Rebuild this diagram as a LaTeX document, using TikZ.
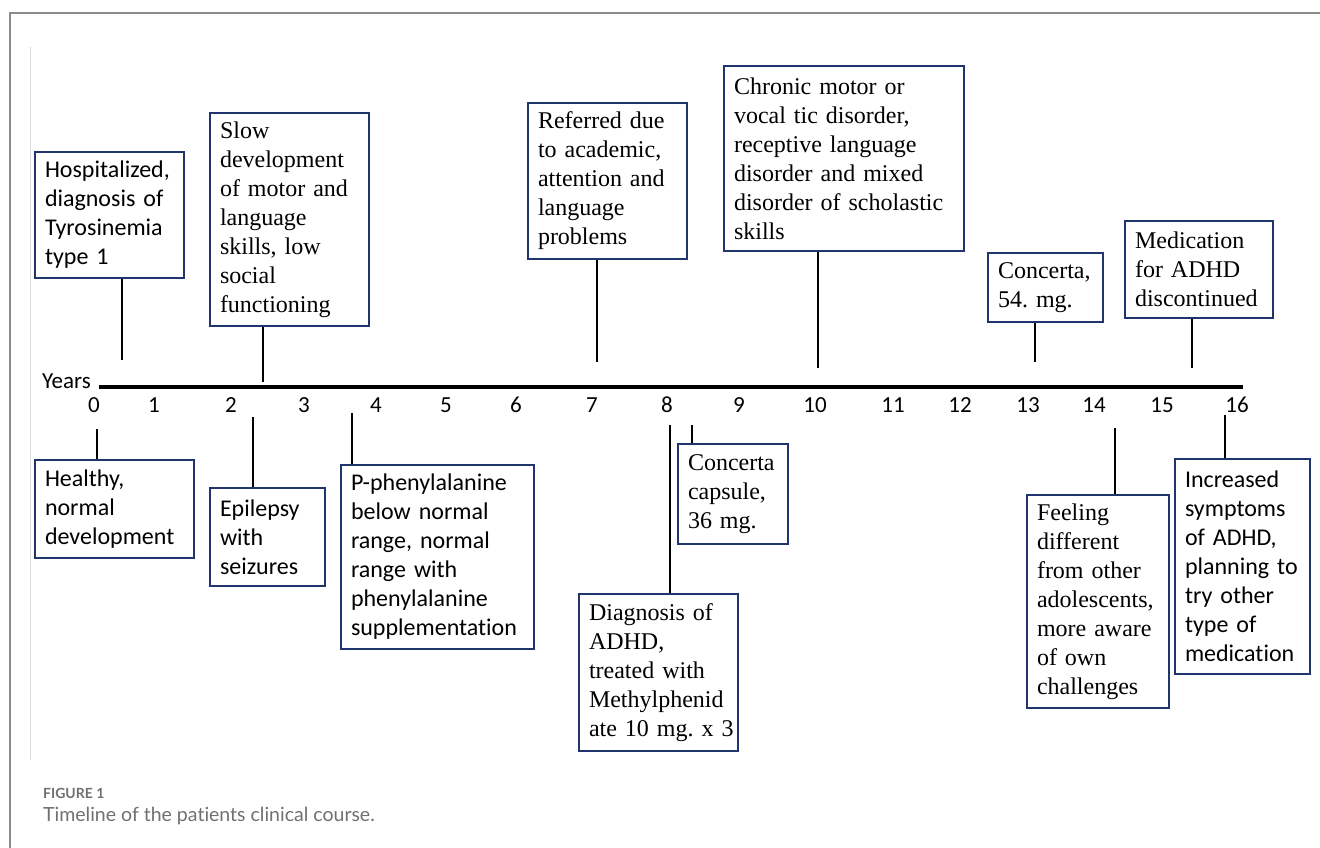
\documentclass[tikz,border=0pt]{standalone}
\usepackage{fontspec}
\setmainfont{Liberation Serif}
\newfontfamily\calibri[Ligatures=NoCommon]{Carlito}
\newfontfamily\capfont[Ligatures=NoCommon]{Lato}
\definecolor{boxnavy}{RGB}{32,52,110}
\definecolor{framegray}{RGB}{140,140,140}
\definecolor{rulegray}{RGB}{218,218,218}
\definecolor{captiongray}{RGB}{112,112,112}
\usepackage{tikz}
\usetikzlibrary{positioning}
\frenchspacing

\begin{document}
\begin{tikzpicture}[
    x=1pt, y=-1pt,
    eventbox/.style={draw=boxnavy, line width=2pt, anchor=north west, align=left,
      inner xsep=10pt, inner ysep=4pt, font=\fontsize{24}{29}\selectfont},
    sansbox/.style={eventbox, font=\calibri\fontsize{24}{29}\selectfont},
    stemline/.style={line width=1.4pt},
    yearlabel/.style={font=\calibri\fontsize{23}{27}\selectfont, inner sep=0pt},
  ]
    \useasboundingbox (0,0) rectangle (1320,848);
    \draw[framegray, line width=2pt] (10,848) -- (10,13) -- (1320,13);
    \draw[rulegray, line width=1pt] (30,47) -- (30,760);

    \coordinate (axis-start) at (99,387);
    \coordinate (axis-end) at (1243,387);
    \draw[line width=3.5pt] (axis-start) -- (axis-end);
    \node[yearlabel, anchor=base east] (years) at (91,388) {Years};
    \foreach \yr/\xx in {0/94,1/154,2/231,3/304,4/376,5/446,6/516,7/592,8/667,
        9/739,10/815,11/893,12/960,13/1028,14/1094,15/1162,16/1237}
      \node[yearlabel] (yr\yr) at (\xx,405) {\yr};

    \node[sansbox, text width=129pt, minimum height=126pt] (hosp) at (34,151)
      {Hospitalized,\\diagnosis of\\Tyrosinemia\\type 1};
    \node[eventbox, text width=139pt, minimum height=213pt] (slow) at (209,112)
      {Slow\\development\\of motor and\\language\\skills, low\\social\\functioning};
    \node[eventbox, text width=139pt, minimum height=156pt] (referred) at (527,102)
      {Referred due\\to academic,\\attention and\\language\\problems};
    \node[eventbox, text width=220pt, minimum height=185pt] (chronic) at (723,65)
      {Chronic motor or\\vocal tic disorder,\\receptive language\\disorder and mixed\\disorder of scholastic\\skills};
    \node[eventbox, text width=95pt, minimum height=69pt] (concerta54) at (987,252)
      {Concerta,\\54. mg.};
    \node[eventbox, text width=128pt, minimum height=97pt] (stopped) at (1124,220)
      {Medication\\for ADHD\\discontinued};

    \node[sansbox, text width=139pt, minimum height=98pt] (healthy) at (34,459)
      {Healthy,\\normal\\development};
    \node[sansbox, text width=95pt, minimum height=98pt] (epilepsy) at (209,487)
      {Epilepsy\\with\\seizures};
    \node[sansbox, text width=173pt, minimum height=184pt] (phenyl) at (340,464)
      {P-phenylalanine\\below normal\\range, normal\\range with\\phenylalanine\\supplementation};
    \node[eventbox, text width=139pt, minimum height=157pt] (adhd) at (578,593)
      {Diagnosis of\\ADHD,\\treated with\\Methylphenid\\\mbox{ate 10 mg. x 3}};
    \node[eventbox, text width=90pt, minimum height=100pt] (capsule) at (677,443)
      {Concerta\\capsule,\\36 mg.};
    \node[eventbox, text width=122pt, minimum height=213pt] (feeling) at (1026,494)
      {Feeling\\different\\from other\\adolescents,\\more aware\\of own\\challenges};
    \node[sansbox, text width=115pt, minimum height=215pt] (increased) at (1174,458)
      {Increased\\symptoms\\of ADHD,\\planning to\\try other\\type of\\medication};

    \coordinate (hosp-tip) at (122,360);
    \coordinate (slow-tip) at (263,382);
    \coordinate (referred-tip) at (597,362);
    \coordinate (chronic-tip) at (818,368);
    \coordinate (concerta54-tip) at (1035,362);
    \coordinate (stopped-tip) at (1192,368);
    \coordinate (healthy-tip) at (97,429);
    \coordinate (epilepsy-tip) at (253,417);
    \coordinate (phenyl-tip) at (352,413);
    \coordinate (adhd-tip) at (670,425);
    \coordinate (capsule-tip) at (692,425);
    \coordinate (feeling-tip) at (1115,428);
    \coordinate (increased-tip) at (1225,415);
    \foreach \ev in {hosp,slow,referred,chronic,concerta54,stopped}
      \draw[stemline] (\ev-tip |- \ev.south) -- (\ev-tip);
    \foreach \ev in {healthy,epilepsy,phenyl,adhd,capsule,feeling,increased}
      \draw[stemline] (\ev-tip |- \ev.north) -- (\ev-tip);

    \node[anchor=base west, inner sep=0pt, text=captiongray,
      font=\capfont\bfseries\fontsize{14}{16}\selectfont] (figlabel) at (43,798) {FIGURE 1};
    \node[anchor=base west, inner sep=0pt, text=captiongray,
      font=\capfont\fontsize{19.5}{22}\selectfont] (figcaption) at (43,821)
      {Timeline of the patients clinical course.};
  \end{tikzpicture}
\end{document}
